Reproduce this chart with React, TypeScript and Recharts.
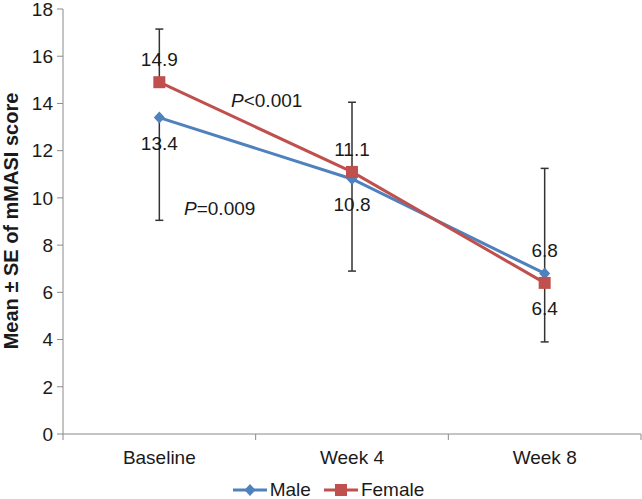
import React from "react";
import { ErrorBar, LabelList, Legend, Line, LineChart, XAxis, YAxis } from "recharts";

const categories = ["Baseline", "Week 4", "Week 8"];
const maleMean = [13.4, 10.8, 6.8];
const femaleMean = [14.9, 11.1, 6.4];
// one-sided SE bars, as [minus, plus]
const maleErrMinus = [4.35, 3.9, 0];
const maleErrPlus = [0, 0, 4.45];
const femaleErrMinus = [0, 0, 2.5];
const femaleErrPlus = [2.25, 2.95, 0];
const yTicks = [0, 2, 4, 6, 8, 10, 12, 14, 16, 18];
const maleLabelSide = ["below", "below", "above"];
const femaleLabelSide = ["above", "above", "below"];

const data = categories.map((name, i) => ({
  name,
  male: maleMean[i],
  female: femaleMean[i],
  maleErr: [maleErrMinus[i], maleErrPlus[i]],
  femaleErr: [femaleErrMinus[i], femaleErrPlus[i]],
}));

const W = 642;
const H = 499;
const LEFT = 63;
const RIGHT = 1;
const BAND = (W - LEFT - RIGHT) / categories.length;
const FONT = "'Liberation Sans', Arial, sans-serif";
const BLUE = "#4F81BD";
const RED = "#C0504D";
const GRAY = "#8a8a8a";
const TEXT = "#1a1a1a";

const Diamond = ({ cx, cy, color = BLUE }: any) => (
  <path d={`M${cx},${cy - 6}L${cx + 5.5},${cy}L${cx},${cy + 6}L${cx - 5.5},${cy}Z`} fill={color} />
);
const Square = ({ cx, cy, color = RED }: any) => (
  <rect x={cx - 6} y={cy - 6} width={12} height={12} fill={color} />
);

const makeLabel = (sides: string[]) => (props: any) => {
  const { x, y, value, index } = props;
  const above = sides[index] === "above";
  return (
    <text
      x={x}
      y={above ? y - 16 : y + 32}
      textAnchor="middle"
      fontSize={19}
      fontFamily={FONT}
      fill={TEXT}
    >
      {value}
    </text>
  );
};

const XTick = (props: any) => {
  const { x, y, payload, index } = props;
  const last = index === categories.length - 1;
  return (
    <g>
      <line x1={x - BAND / 2} y1={y} x2={x - BAND / 2} y2={y + 6} stroke={GRAY} />
      {last && <line x1={x + BAND / 2} y1={y} x2={x + BAND / 2} y2={y + 6} stroke={GRAY} />}
      <text x={x} y={y + 30} textAnchor="middle" fontSize={19} fontFamily={FONT} fill={TEXT}>
        {payload.value}
      </text>
    </g>
  );
};

const LegendContent = () => (
  <div
    style={{
      height: 22,
      display: "flex",
      justifyContent: "center",
      alignItems: "flex-end",
      fontFamily: FONT,
      fontSize: 19,
      lineHeight: "19px",
      color: TEXT,
      paddingLeft: 14,
    }}
  >
    <svg width={36} height={14} style={{ marginRight: 2, marginBottom: 2 }}>
      <line x1={1} y1={7} x2={35} y2={7} stroke={BLUE} strokeWidth={3} />
      <Diamond cx={18} cy={7} />
    </svg>
    <span style={{ marginRight: 12 }}>Male</span>
    <svg width={36} height={14} style={{ marginRight: 2, marginBottom: 2 }}>
      <line x1={1} y1={7} x2={35} y2={7} stroke={RED} strokeWidth={3} />
      <Square cx={18} cy={7} />
    </svg>
    <span>Female</span>
  </div>
);

export default function App() {
  return (
    <div style={{ position: "absolute", left: 0, top: 0, width: W, height: H, background: "#fff" }}>
      <LineChart width={W} height={H} data={data} margin={{ top: 9, right: RIGHT, bottom: 0, left: 0 }}>
        <XAxis
          dataKey="name"
          scale="band"
          height={43}
          stroke={GRAY}
          tickLine={false}
          tickSize={0}
          tickMargin={0}
          tick={<XTick />}
          interval={0}
        />
        <YAxis
          type="number"
          domain={[0, 18]}
          ticks={yTicks}
          interval={0}
          width={LEFT}
          stroke={GRAY}
          tickSize={6}
          tickMargin={4}
          tick={{ fill: TEXT, fontSize: 19, fontFamily: FONT }}
        />
        <Legend
          verticalAlign="bottom"
          content={<LegendContent />}
          wrapperStyle={{ left: 0, width: W }}
        />
        <Line
          dataKey="male"
          name="Male"
          stroke={BLUE}
          strokeWidth={3}
          dot={<Diamond />}
          activeDot={false}
          isAnimationActive={false}
        >
          <ErrorBar dataKey="maleErr" direction="y" width={4} stroke="#333" strokeWidth={1.5} />
          <LabelList dataKey="male" content={makeLabel(maleLabelSide)} />
        </Line>
        <Line
          dataKey="female"
          name="Female"
          stroke={RED}
          strokeWidth={3}
          dot={<Square />}
          activeDot={false}
          isAnimationActive={false}
        >
          <ErrorBar dataKey="femaleErr" direction="y" width={4} stroke="#333" strokeWidth={1.5} />
          <LabelList dataKey="female" content={makeLabel(femaleLabelSide)} />
        </Line>
      </LineChart>
      <svg
        width={W}
        height={H}
        style={{ position: "absolute", left: 0, top: 0, pointerEvents: "none" }}
        fontFamily={FONT}
        fill={TEXT}
      >
        <text
          transform="translate(18,221) rotate(-90)"
          textAnchor="middle"
          fontSize={20}
          fontWeight="bold"
        >
          Mean ± SE of mMASI score
        </text>
        <text x={231} y={107} fontSize={19}>
          <tspan fontStyle="italic">P</tspan>&lt;0.001
        </text>
        <text x={184} y={215} fontSize={19}>
          <tspan fontStyle="italic">P</tspan>=0.009
        </text>
      </svg>
    </div>
  );
}
